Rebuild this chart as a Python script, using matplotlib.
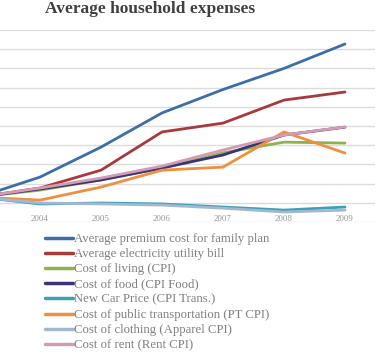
import numpy as np
import matplotlib
matplotlib.use("Agg")
import matplotlib.pyplot as plt

# years (2003 point sits just off the left edge, as in the cropped original)
years = ['2003', '2004', '2005', '2006', '2007', '2008', '2009']

# index values, 2003 = 100
premium     = [100, 110.4, 126.0, 143.8, 156.0, 167.0, 179.7]
electricity = [100, 104.7, 114.0, 133.9, 138.5, 150.5, 154.7]
cpi         = [100, 103.6, 108.9, 115.1, 123.0, 128.6, 128.1]
food        = [100, 104.2, 108.9, 115.1, 121.9, 132.3, 136.4]
new_car     = [100, 96.4, 96.9, 96.4, 94.8, 93.2, 94.8]
public_tr   = [100, 98.4, 105.2, 114.0, 115.6, 133.9, 122.9]
apparel     = [100, 96.9, 96.4, 95.8, 94.2, 92.2, 93.2]
rent        = [100, 104.7, 109.9, 116.1, 124.5, 132.3, 136.5]

labels = ['Average premium cost for family plan',
          'Average electricity utility bill',
          'Cost of living (CPI)',
          'Cost of food (CPI Food)',
          'New Car Price (CPI Trans.)',
          'Cost of public transportation (PT CPI)',
          'Cost of clothing (Apparel CPI)',
          'Cost of rent (Rent CPI)']
series = [premium, electricity, cpi, food, new_car, public_tr, apparel, rent]
colors = ['#3d6ea8', '#a83a3c', '#8fb14e', '#3c3478', '#3aa1b9',
          '#ee9040', '#a3b8d0', '#d39bb4']

W, H = 378, 354
fig = plt.figure(figsize=(W / 100, H / 100), dpi=100)

# axes extends past the left edge of the figure (original is cropped)
left_px, right_px, top_px, bot_px = -51.5, 375.5, 30, 222
ax = fig.add_axes([left_px / W, 1 - bot_px / H,
                   (right_px - left_px) / W, (bot_px - top_px) / H])

x = np.arange(len(years))
handles = []
for s, c, lab in zip(series, colors, labels):
    h, = ax.plot(x, s, color=c, lw=2.0, solid_capstyle='round', label=lab)
    handles.append(h)

ax.set_xlim(-0.5, 6.5)
ax.set_ylim(87, 187)
ax.set_yticks(np.arange(87, 188, 10))
ax.yaxis.grid(True, color='#dcdcdc', lw=1)
ax.set_axisbelow(True)
ax.tick_params(axis='y', left=False, labelleft=False)
ax.set_xticks(x[1:])
ax.set_xticklabels(years[1:], fontsize=6.5, color='#999999', family='Liberation Serif')
ax.tick_params(axis='x', bottom=False, pad=-8.5)
for sp in ax.spines.values():
    sp.set_visible(False)

fig.text(150 / W, 1 - 9 / H, 'Average household expenses', ha='center', va='center',
         fontsize=12.5, fontweight='bold', family='Liberation Serif', color='#404040')

leg = fig.legend(handles=handles, loc='upper left', bbox_to_anchor=(45 / W, 1 - 233 / H),
                 frameon=False, handlelength=2.2, handletextpad=0.1,
                 labelspacing=0.25, borderaxespad=0, borderpad=0,
                 prop={'family': 'Liberation Serif', 'size': 9.2})
for t in leg.get_texts():
    t.set_color('#808080')
for lh in leg.get_lines():
    lh.set_linewidth(2.5)

fig.savefig('out.png', dpi=100)
